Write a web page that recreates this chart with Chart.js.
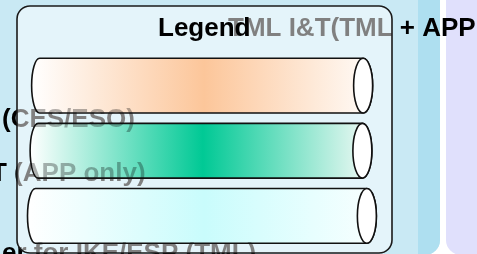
<!DOCTYPE html>
<html>
<head>
<meta charset="utf-8">
<script src="https://cdn.jsdelivr.net/npm/chart.js@4/dist/chart.umd.min.js"></script>
<style>
html,body{margin:0;padding:0;background:#fff;overflow:hidden;}
#wrap{width:477px;height:254px;}
</style>
</head>
<body>
<div id="wrap"><canvas id="c" width="477" height="254"></canvas></div>
<script>
// ---- data ----
const categories = ['Orange band', 'Green band', 'Cyan band'];
const barStart = [3.9, 3.5, 2.8];
const barEnd = [92.3, 92.1, 93.3];
const peakColors = ['#fcc69a', '#00c995', '#c9fcfc'];
const edgeColors = ['#fff9f4', '#e6f7f1', '#f6ffff'];
const titleText = 'TML I&T(TML + APP';
const legendTitle = 'Legend';
const sideLabels = ['(CES/ESO)', 'T (APP only)', 'er for IKE/ESP (TML)'];
const sidePos = [[2, 127], [-9, 181], [2, 261]];

const FONT = 'bold 26px "Liberation Sans", Arial, sans-serif';

function rr(ctx, x, y, w, h, r) {
  ctx.beginPath();
  ctx.moveTo(x + r, y);
  ctx.lineTo(x + w - r, y);
  ctx.arcTo(x + w, y, x + w, y + r, r);
  ctx.lineTo(x + w, y + h - r);
  ctx.arcTo(x + w, y + h, x + w - r, y + h, r);
  ctx.lineTo(x + r, y + h);
  ctx.arcTo(x, y + h, x, y + h - r, r);
  ctx.lineTo(x, y + r);
  ctx.arcTo(x, y, x + r, y, r);
  ctx.closePath();
}

function drawSideTexts(ctx) {
  ctx.font = FONT;
  ctx.textBaseline = 'alphabetic';
  ctx.textAlign = 'left';
  sideLabels.forEach((t, i) => ctx.fillText(t, sidePos[i][0], sidePos[i][1]));
}

const scenePlugin = {
  id: 'scene',
  beforeDraw(chart) {
    const ctx = chart.ctx;
    ctx.save();
    // backgrounds
    ctx.fillStyle = '#ffffff';
    ctx.fillRect(0, 0, 477, 254);
    ctx.fillStyle = '#c9e9f4';
    rr(ctx, -30, -30, 470, 285, 15);
    ctx.fill();
    ctx.save();
    rr(ctx, -30, -30, 470, 285, 15);
    ctx.clip();
    ctx.fillStyle = '#aedff0';
    ctx.fillRect(418, -30, 30, 300);
    ctx.restore();
    ctx.fillStyle = '#e0e0fc';
    rr(ctx, 446, -30, 80, 285, 15);
    ctx.fill();
    // texts behind legend box
    ctx.fillStyle = '#000';
    ctx.font = FONT;
    ctx.textBaseline = 'alphabetic';
    ctx.textAlign = 'left';
    ctx.fillText(titleText, 228, 36);
    drawSideTexts(ctx);
    // legend box
    rr(ctx, 17, 6, 375, 247, 13);
    ctx.fillStyle = 'rgba(255,255,255,0.5)';
    ctx.fill();
    ctx.lineWidth = 1.6;
    ctx.strokeStyle = '#1a1a1a';
    ctx.stroke();
    ctx.fillStyle = '#000';
    ctx.fillText(legendTitle, 158, 36);
    ctx.restore();
  },
  afterDatasetsDraw(chart) {
    const ctx = chart.ctx;
    const meta = chart.getDatasetMeta(0);
    meta.data.forEach((el, i) => {
      const p = el.getProps(['x', 'y', 'base', 'height'], true);
      const x0 = Math.min(p.x, p.base), x1 = Math.max(p.x, p.base);
      const h = p.height, cy = p.y, top = cy - h / 2, bot = cy + h / 2;
      const rl = 8, rr2 = 9.5;
      const body = () => {
        ctx.beginPath();
        ctx.moveTo(x0 + rl, top);
        ctx.lineTo(x1, top);
        ctx.ellipse(x1, cy, rr2, h / 2, 0, -Math.PI / 2, Math.PI / 2, false);
        ctx.lineTo(x0 + rl, bot);
        ctx.ellipse(x0 + rl, cy, rl, h / 2, 0, Math.PI / 2, Math.PI * 1.5, false);
        ctx.closePath();
      };
      ctx.save();
      const g = ctx.createLinearGradient(x0, 0, x1, 0);
      g.addColorStop(0, '#ffffff');
      g.addColorStop(0.52, peakColors[i]);
      g.addColorStop(1, edgeColors[i]);
      body();
      ctx.fillStyle = g;
      ctx.fill();
      // faint see-through text
      ctx.save();
      body();
      ctx.clip();
      ctx.fillStyle = 'rgba(0,0,0,0.3)';
      drawSideTexts(ctx);
      ctx.restore();
      body();
      ctx.lineWidth = 1.6;
      ctx.strokeStyle = '#111';
      ctx.stroke();
      ctx.beginPath();
      ctx.ellipse(x1, cy, rr2, h / 2, 0, 0, Math.PI * 2);
      ctx.fillStyle = '#ffffff';
      ctx.fill();
      ctx.stroke();
      ctx.restore();
    });
  }
};

new Chart(document.getElementById('c'), {
  type: 'bar',
  data: {
    labels: categories,
    datasets: [{
      data: categories.map((c, i) => [barStart[i], barEnd[i]]),
      backgroundColor: 'rgba(0,0,0,0)',
      borderWidth: 0,
      barPercentage: 0.84,
      categoryPercentage: 1
    }]
  },
  options: {
    indexAxis: 'y',
    responsive: false,
    animation: false,
    devicePixelRatio: 1,
    layout: { padding: { left: 17, right: 85, top: 53, bottom: 5.5 } },
    plugins: { legend: { display: false }, tooltip: { enabled: false }, title: { display: false } },
    scales: {
      x: { type: 'linear', min: 0, max: 100, display: false },
      y: { type: 'category', display: false }
    }
  },
  plugins: [scenePlugin]
});
</script>
</body>
</html>
